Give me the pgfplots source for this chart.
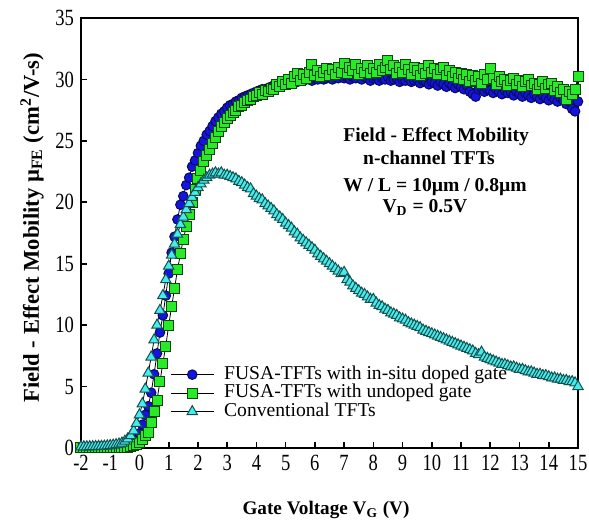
\documentclass[border=0pt]{standalone}
\usepackage{pgfplots}
\pgfplotsset{compat=1.18}
\usepackage{fontspec}
\setmainfont{Liberation Serif}
\newfontfamily\tickfont[FakeStretch=0.8]{Liberation Serif}
\definecolor{cblue}{RGB}{20,20,225}
\definecolor{cblueE}{RGB}{10,10,90}
\definecolor{cgreen}{RGB}{40,235,40}
\definecolor{cgreenE}{RGB}{15,70,15}
\definecolor{ccyan}{RGB}{70,235,235}
\definecolor{ccyanE}{RGB}{20,80,80}
\pgfplotstableread{
x y
-2.0 0.02
-1.9 0.02
-1.8 0.02
-1.7 0.03
-1.6 0.03
-1.5 0.03
-1.4 0.04
-1.3 0.04
-1.2 0.05
-1.1 0.06
-1.0 0.07
-0.9 0.09
-0.8 0.12
-0.7 0.16
-0.6 0.22
-0.5 0.30
-0.4 0.40
-0.3 0.50
-0.2 0.62
-0.1 0.75
0.0 1.2
0.1 1.9
0.2 2.7
0.3 3.4
0.4 4.5
0.5 6.0
0.6 7.7
0.7 9.4
0.8 10.8
0.9 12.4
1.0 14.2
1.1 15.9
1.2 17.2
1.3 18.6
1.4 19.8
1.5 20.5
1.6 21.4
1.7 22.0
1.8 22.9
1.9 23.4
2.0 24.0
2.1 24.6
2.2 25.0
2.3 25.5
2.4 25.8
2.5 26.2
2.6 26.6
2.7 26.9
2.8 27.2
2.9 27.4
3.0 27.7
3.1 27.9
3.2 28.0
3.3 28.2
3.4 28.3
3.5 28.5
3.6 28.6
3.7 28.7
3.8 28.8
3.9 28.9
4.0 29.0
4.1 29.1
4.2 29.2
4.3 29.2
4.4 29.3
4.5 29.4
4.6 29.5
4.7 29.5
4.8 29.6
4.9 29.6
5.0 29.7
5.1 29.8
5.2 29.7
5.3 29.9
5.4 29.8
5.5 30.0
5.6 29.9
5.7 30.0
5.8 30.1
5.9 29.9
6.0 30.1
6.1 30.0
6.2 30.2
6.3 30.0
6.4 30.1
6.5 30.2
6.6 30.0
6.7 30.2
6.8 30.1
6.9 30.3
7.0 30.1
7.1 30.2
7.2 30.0
7.3 30.2
7.4 30.1
7.5 30.3
7.6 30.0
7.7 30.2
7.8 30.1
7.9 29.9
8.0 30.1
8.1 30.2
8.2 29.9
8.3 30.1
8.4 30.0
8.5 30.2
8.6 29.9
8.7 30.0
8.8 30.1
8.9 29.8
9.0 30.0
9.1 29.9
9.2 30.1
9.3 29.8
9.4 29.9
9.5 30.0
9.6 29.7
9.7 29.9
9.8 29.8
9.9 29.6
10.0 29.8
10.1 29.7
10.2 29.5
10.3 29.8
10.4 29.6
10.5 29.4
10.6 29.7
10.7 29.5
10.8 29.3
10.9 29.6
11.0 29.4
11.1 29.2
11.2 29.5
11.3 29.0
11.4 28.8
11.5 28.6
11.6 29.2
11.7 29.3
11.8 29.0
11.9 29.2
12.0 29.1
12.1 28.9
12.2 29.2
12.3 29.0
12.4 28.8
12.5 29.1
12.6 28.9
12.7 29.0
12.8 28.7
12.9 29.0
13.0 28.8
13.1 28.6
13.2 28.9
13.3 28.7
13.4 28.5
13.5 28.8
13.6 28.6
13.7 28.4
13.8 28.7
13.9 28.5
14.0 28.3
14.1 28.6
14.2 28.4
14.3 28.2
14.4 28.5
14.5 28.3
14.6 28.0
14.7 28.2
14.8 27.6
14.9 27.4
15.0 28.2
}\insitu
\pgfplotstableread{
x y
-2.0 0.01
-1.9 0.01
-1.8 0.01
-1.7 0.01
-1.6 0.01
-1.5 0.01
-1.4 0.01
-1.3 0.02
-1.2 0.02
-1.1 0.02
-1.0 0.02
-0.9 0.03
-0.8 0.03
-0.7 0.04
-0.6 0.05
-0.5 0.06
-0.4 0.08
-0.3 0.12
-0.2 0.18
-0.1 0.28
0.0 0.45
0.1 0.7
0.2 1.0
0.3 1.3
0.4 2.1
0.5 3.0
0.6 3.9
0.7 5.4
0.8 6.9
0.9 8.3
1.0 10.0
1.1 11.5
1.2 13.0
1.3 14.5
1.4 15.8
1.5 17.0
1.6 18.0
1.7 19.0
1.8 20.0
1.9 21.0
2.0 21.9
2.1 22.6
2.2 23.3
2.3 23.8
2.4 24.3
2.5 24.8
2.6 25.3
2.7 25.8
2.8 26.2
2.9 26.5
3.0 26.8
3.1 27.1
3.2 27.3
3.3 27.5
3.4 27.8
3.5 27.9
3.6 28.1
3.7 28.3
3.8 28.4
3.9 28.6
4.0 28.7
4.1 28.9
4.2 28.8
4.3 29.1
4.4 29.0
4.5 29.3
4.6 29.2
4.7 29.6
4.8 29.4
4.9 29.8
5.0 29.6
5.1 30.0
5.2 29.7
5.3 30.2
5.4 30.5
5.5 29.9
5.6 30.4
5.7 30.1
5.8 30.6
5.9 31.2
6.0 30.3
6.1 30.7
6.2 30.2
6.3 30.6
6.4 30.9
6.5 30.3
6.6 30.8
6.7 30.4
6.8 31.0
6.9 30.6
7.0 31.3
7.1 30.5
7.2 31.0
7.3 30.7
7.4 31.2
7.5 30.4
7.6 30.9
7.7 30.6
7.8 31.1
7.9 30.5
8.0 30.9
8.1 30.6
8.2 31.2
8.3 30.7
8.4 31.0
8.5 31.5
8.6 30.8
8.7 31.1
8.8 30.5
8.9 31.0
9.0 30.6
9.1 31.2
9.2 30.8
9.3 30.4
9.4 31.0
9.5 30.7
9.6 30.3
9.7 30.9
9.8 30.5
9.9 31.1
10.0 30.6
10.1 30.9
10.2 30.4
10.3 30.8
10.4 31.0
10.5 30.3
10.6 30.7
10.7 30.2
10.8 30.6
10.9 30.1
11.0 30.5
11.1 30.0
11.2 30.4
11.3 29.8
11.4 30.3
11.5 29.9
11.6 30.2
11.7 29.7
11.8 30.4
11.9 30.0
12.0 30.9
12.1 30.1
12.2 29.6
12.3 30.2
12.4 29.8
12.5 30.0
12.6 29.5
12.7 29.9
12.8 30.1
12.9 29.6
13.0 29.9
13.1 29.4
13.2 29.8
13.3 30.0
13.4 29.5
13.5 29.7
13.6 29.2
13.7 29.6
13.8 29.8
13.9 29.3
14.0 29.6
14.1 29.7
14.2 29.1
14.3 29.4
14.4 28.9
14.5 29.2
14.6 28.4
14.7 29.0
14.8 28.8
14.9 29.2
15.0 30.2
}\undoped
\pgfplotstableread{
x y
-2.0 0.10
-1.9 0.10
-1.8 0.10
-1.7 0.11
-1.6 0.11
-1.5 0.12
-1.4 0.13
-1.3 0.14
-1.2 0.15
-1.1 0.17
-1.0 0.20
-0.9 0.23
-0.8 0.27
-0.7 0.32
-0.6 0.40
-0.5 0.55
-0.4 0.75
-0.3 1.0
-0.2 1.4
-0.1 2.0
0.0 2.7
0.1 3.6
0.2 4.8
0.3 6.1
0.4 7.4
0.5 8.8
0.6 10.0
0.7 11.2
0.8 12.4
0.9 13.7
1.0 14.8
1.1 15.7
1.2 16.6
1.3 17.4
1.4 18.2
1.5 18.8
1.6 19.4
1.7 19.9
1.8 20.4
1.9 20.8
2.0 21.2
2.1 21.5
2.2 21.8
2.3 22.0
2.4 22.2
2.5 22.3
2.6 22.4
2.7 22.3
2.8 22.4
2.9 22.2
3.0 22.2
3.1 22.1
3.2 22.0
3.3 21.9
3.4 21.7
3.5 21.6
3.6 21.4
3.7 21.2
3.8 21.1
3.9 20.7
4.0 20.5
4.1 20.3
4.2 20.2
4.3 19.9
4.4 19.7
4.5 19.5
4.6 19.3
4.7 19.0
4.8 18.8
4.9 18.6
5.0 18.3
5.1 18.1
5.2 17.9
5.3 17.6
5.4 17.4
5.5 17.1
5.6 16.9
5.7 16.7
5.8 16.5
5.9 16.3
6.0 16.1
6.1 15.8
6.2 15.6
6.3 15.4
6.4 15.2
6.5 15.0
6.6 14.8
6.7 14.6
6.8 14.4
6.9 14.2
7.0 14.3
7.1 13.7
7.2 13.5
7.3 13.2
7.4 13.0
7.5 12.8
7.6 12.6
7.7 12.5
7.8 12.3
7.9 12.1
8.0 12.1
8.1 11.8
8.2 11.6
8.3 11.5
8.4 11.3
8.5 11.2
8.6 11.0
8.7 10.9
8.8 10.8
8.9 10.6
9.0 10.5
9.1 10.4
9.2 10.2
9.3 10.1
9.4 10.0
9.5 9.9
9.6 9.8
9.7 9.6
9.8 9.5
9.9 9.4
10.0 9.3
10.1 9.2
10.2 9.1
10.3 9.0
10.4 8.9
10.5 8.8
10.6 8.7
10.7 8.6
10.8 8.5
10.9 8.4
11.0 8.3
11.1 8.2
11.2 8.1
11.3 8.0
11.4 7.9
11.5 7.7
11.6 7.6
11.7 7.8
11.8 7.4
11.9 7.3
12.0 7.2
12.1 7.1
12.2 7.0
12.3 6.9
12.4 6.8
12.5 6.8
12.6 6.7
12.7 6.6
12.8 6.6
12.9 6.5
13.0 6.4
13.1 6.4
13.2 6.3
13.3 6.2
13.4 6.2
13.5 6.1
13.6 6.0
13.7 6.0
13.8 5.9
13.9 5.9
14.0 5.8
14.1 5.7
14.2 5.7
14.3 5.6
14.4 5.6
14.5 5.5
14.6 5.5
14.7 5.4
14.8 5.4
14.9 5.3
15.0 5.0
}\conv
\begin{document}
\begin{tikzpicture}
\begin{axis}[
  name=ax,
  scale only axis,
  width=248.5pt, height=215pt,
  xmin=-2, xmax=15, ymin=0, ymax=35,
  xtick={-2,-1,...,15}, ytick={0,5,...,35},
  tick pos=left, tick align=inside,
  major tick length=3pt,
  axis line style={line width=1pt},
  every tick/.style={black, line width=0.8pt},
  ticklabel style={font=\tickfont\fontsize{11.6}{13}\selectfont},
  /pgf/number format/assume math mode=true,
  xlabel={\bfseries Gate Voltage V\textsubscript{G} (V)},
  ylabel={\bfseries Field - Effect Mobility \textmu\textsubscript{FE} (cm\textsuperscript{2}/V-s)},
  xlabel style={font=\fontsize{9.6}{11}\selectfont, at={(axis description cs:0.493,-0.144)}, anchor=center},
  ylabel style={font=\fontsize{11.3}{13}\selectfont, at={(axis description cs:-0.0986,0.512)}, anchor=center},
  legend style={draw=none, fill=none, at={(rel axis cs:0.179,0.193)}, anchor=north west,
    font=\fontsize{9.8}{10}\selectfont, inner sep=0pt, row sep=0pt, column sep=5pt,
    nodes={inner sep=0pt, text height=6.9pt, text depth=2.35pt}},
  legend cell align=left,
  legend image code/.code={\draw[mark repeat=2,mark phase=2,#1] plot coordinates {(0pt,0pt) (10.75pt,0pt) (21.5pt,0pt)};},
]
\addplot[black, line width=0.4pt, mark=*, mark size=2.4pt, mark options={fill=cblue, draw=cblueE, line width=0.5pt}] table {\insitu};
\addlegendentry{FUSA-TFTs with in-situ doped gate}
\addplot[black, line width=0.4pt, mark=square*, mark size=2.5pt, mark options={fill=cgreen, draw=cgreenE, line width=0.5pt}] table {\undoped};
\addlegendentry{FUSA-TFTs with undoped gate}
\addplot[black, line width=0.4pt, mark=triangle*, mark size=3pt, mark options={fill=ccyan, draw=ccyanE, line width=0.5pt}] table {\conv};
\addlegendentry{Conventional TFTs}
\node[anchor=base west, font=\bfseries\fontsize{9.8}{11}\selectfont, inner sep=0pt] at (rel axis cs:0.527,0.713) {Field - Effect Mobility};
\node[anchor=base west, font=\bfseries\fontsize{9.8}{11}\selectfont, inner sep=0pt] at (rel axis cs:0.567,0.660) {n-channel TFTs};
\node[anchor=base west, font=\bfseries\fontsize{9.8}{11}\selectfont, inner sep=0pt] at (rel axis cs:0.527,0.596) {W / L = 10µm / 0.8µm};
\node[anchor=base west, font=\bfseries\fontsize{9.8}{11}\selectfont, inner sep=0pt] at (rel axis cs:0.606,0.547) {V\textsubscript{D} = 0.5V};
\end{axis}
\pgfresetboundingbox
\useasboundingbox ([shift={(-40.5pt,-36.5pt)}]ax.south west) rectangle ([shift={(5.5pt,9pt)}]ax.north east);
\end{tikzpicture}
\end{document}
